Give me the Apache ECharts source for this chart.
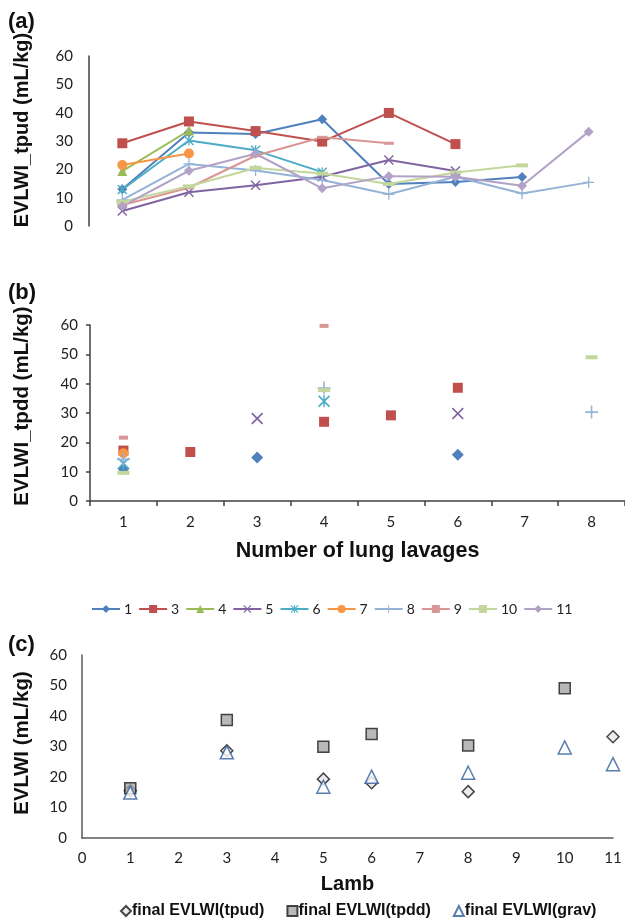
<!DOCTYPE html>
<html>
<head>
<meta charset="utf-8">
<script src="https://cdn.jsdelivr.net/npm/echarts@6/dist/echarts.min.js"></script>
<style>
html,body{margin:0;padding:0;background:#fff;}
#chart{width:625px;height:920px;}
</style>
</head>
<body>
<div id="chart"></div>
<script>
// ---------- DATA ----------
const lavages = ['1','2','3','4','5','6','7','8'];
const lambNames = ['1','3','4','5','6','7','8','9','10','11'];

// Panel (a): EVLWI_tpud per lavage, one array per lamb
const tpudLamb1  = [13.0, 33.0, 32.5, 37.7, 14.8, 15.5, 17.3, null];
const tpudLamb3  = [29.2, 36.9, 33.5, 29.8, 39.9, 28.9, null, null];
const tpudLamb4  = [19.4, 33.7, null, null, null, null, null, null];
const tpudLamb5  = [5.3, 11.9, 14.4, 17.4, 23.3, 19.4, null, null];
const tpudLamb6  = [12.9, 30.2, 26.7, 19.0, null, null, null, null];
const tpudLamb7  = [21.5, 25.6, null, null, null, null, null, null];
const tpudLamb8  = [9.2, 21.9, 19.6, 16.2, 11.2, 17.4, 11.5, 15.4];
const tpudLamb9  = [7.4, 13.5, 24.8, 31.3, 29.2, null, null, null];
const tpudLamb10 = [8.6, 14.0, 20.5, 18.5, 14.8, 18.9, 21.4, null];
const tpudLamb11 = [7.0, 19.5, 25.5, 13.3, 17.6, 17.4, 14.2, 33.3];

// Panel (b): EVLWI_tpdd per lavage, one array per lamb
const tpddLamb1  = [11.0, null, 14.8, null, null, 15.8, null, null];
const tpddLamb3  = [17.2, 16.7, null, 27.0, 29.2, 38.6, null, null];
const tpddLamb4  = [null, null, null, null, null, null, null, null];
const tpddLamb5  = [null, null, 28.1, null, null, 29.8, null, null];
const tpddLamb6  = [12.8, null, null, 34.0, null, null, null, null];
const tpddLamb7  = [16.3, null, null, null, null, null, null, null];
const tpddLamb8  = [14.2, null, null, 38.5, null, null, null, 30.3];
const tpddLamb9  = [21.6, null, null, 59.7, null, null, null, null];
const tpddLamb10 = [9.6, null, null, 37.8, null, null, null, 49.0];
const tpddLamb11 = [null, null, null, null, null, null, null, null];

// Panel (c): final EVLWI per lamb
const lambIds    = [1, 3, 5, 6, 8, 10, 11];
const finalTpud  = [15.5, 28.6, 19.3, 18.1, 15.2, null, 33.2];
const finalTpdd  = [16.3, 38.7, 29.9, 34.1, 30.3, 49.1, null];
const finalGrav  = [14.9, 28.1, 16.8, 20.1, 21.4, 29.7, 24.2];
const valueTicks = [0, 10, 20, 30, 40, 50, 60];

// ---------- STYLE ----------
const tpudSets = [tpudLamb1,tpudLamb3,tpudLamb4,tpudLamb5,tpudLamb6,tpudLamb7,tpudLamb8,tpudLamb9,tpudLamb10,tpudLamb11];
const tpddSets = [tpddLamb1,tpddLamb3,tpddLamb4,tpddLamb5,tpddLamb6,tpddLamb7,tpddLamb8,tpddLamb9,tpddLamb10,tpddLamb11];
const colors = ['#4F81BD','#C0504D','#9BBB59','#8064A2','#4BACC6','#F79646','#95B3D7','#D99694','#C3D69B','#B3A2C7'];
const X_PATH = 'path://M1,0 L5,4 L9,0 L10,1 L6,5 L10,9 L9,10 L5,6 L1,10 L0,9 L4,5 L0,1 Z';
const PLUS_PATH = 'path://M4.4,0 H5.6 V4.4 H10 V5.6 H5.6 V10 H4.4 V5.6 H0 V4.4 H4.4 Z';
const STAR_PATH = 'path://M1,0 L5,4 L9,0 L10,1 L6,5 L10,9 L9,10 L5,6 L1,10 L0,9 L4,5 L0,1 Z M4.4,0 H5.6 V10 H4.4 Z';
const symbols = ['diamond','rect','triangle',X_PATH,STAR_PATH,'circle',PLUS_PATH,'rect','rect','diamond'];
const symSizesA = [10,10,10,10,10,10,11,[10,3],[12,4],10];
const symSizesB = [12,10,10,12,12,10,13,[9,4],[12,4],10];

const tickFont = 'Lato, "Liberation Sans", sans-serif';
const boldFont = '"Liberation Sans", Arial, sans-serif';

const series = [];
lambNames.forEach((nm, i) => {
  series.push({
    name: nm, type: 'line', xAxisIndex: 0, yAxisIndex: 0,
    data: tpudSets[i], symbol: symbols[i], symbolSize: symSizesA[i],
    showAllSymbol: true, connectNulls: false,
    lineStyle: {color: colors[i], width: 2},
    itemStyle: {color: colors[i]},
    emphasis: {disabled: true}, animation: false
  });
});
lambNames.forEach((nm, i) => {
  series.push({
    name: nm, type: 'line', xAxisIndex: 1, yAxisIndex: 1,
    data: tpddSets[i], symbol: symbols[i], symbolSize: symSizesB[i],
    showAllSymbol: true, lineStyle: {width: 0, opacity: 0},
    itemStyle: {color: colors[i]},
    emphasis: {disabled: true}, animation: false
  });
});
series.push({
  name: 'final EVLWI(tpud)', type: 'scatter', xAxisIndex: 2, yAxisIndex: 2,
  data: lambIds.map((l, k) => [l, finalTpud[k]]).filter(d => d[1] !== null),
  symbol: 'diamond', symbolSize: 12,
  itemStyle: {color: '#E8E8E8', borderColor: '#1a1a1a', borderWidth: 1.5}, animation: false
});
series.push({
  name: 'final EVLWI(tpdd)', type: 'scatter', xAxisIndex: 2, yAxisIndex: 2,
  data: lambIds.map((l, k) => [l, finalTpdd[k]]).filter(d => d[1] !== null),
  symbol: 'rect', symbolSize: 11,
  itemStyle: {color: '#A6A6A6', borderColor: '#1a1a1a', borderWidth: 1.5}, animation: false
});
series.push({
  name: 'final EVLWI(grav)', type: 'scatter', xAxisIndex: 2, yAxisIndex: 2,
  data: lambIds.map((l, k) => [l, finalGrav[k]]).filter(d => d[1] !== null),
  symbol: 'triangle', symbolSize: 13,
  itemStyle: {color: '#ffffff', borderColor: '#2E5C9A', borderWidth: 1.5}, animation: false
});

const yAxisBase = (extra) => Object.assign({
  type: 'value', min: valueTicks[0], max: valueTicks[valueTicks.length-1], interval: 10,
  splitLine: {show: false},
  axisLine: {show: true, lineStyle: {color: '#404040', width: 1.5}},
  axisTick: {show: false},
  axisLabel: {fontSize: 15, color: '#222', fontFamily: tickFont, margin: 16}
}, extra);

const option = {
  backgroundColor: '#fff',
  animation: false,
  grid: [
    {left: 89, top: 56, width: 533, height: 170},
    {left: 90, top: 325, width: 541, height: 176},
    {left: 82, top: 655, width: 531, height: 183}
  ],
  xAxis: [
    {type: 'category', gridIndex: 0, data: lavages, boundaryGap: true, show: false},
    {type: 'category', gridIndex: 1, data: lavages, boundaryGap: true,
     axisLine: {lineStyle: {color: '#404040', width: 1.5}},
     axisTick: {show: true, length: 5, lineStyle: {color: '#404040', width: 1.5}},
     axisLabel: {fontSize: 15, color: '#222', fontFamily: tickFont, margin: 14},
     name: 'Number of lung lavages', nameLocation: 'middle', nameGap: 39,
     nameTextStyle: {fontSize: 21.5, fontWeight: 'bold', fontFamily: boldFont, color: '#111'}},
    {type: 'value', gridIndex: 2, min: 0, max: 11, interval: 1,
     splitLine: {show: false},
     axisLine: {lineStyle: {color: '#595959', width: 1.5}},
     axisTick: {show: false},
     axisLabel: {fontSize: 15, color: '#222', fontFamily: tickFont, margin: 13},
     name: 'Lamb', nameLocation: 'middle', nameGap: 36,
     nameTextStyle: {fontSize: 20, fontWeight: 'bold', fontFamily: boldFont, color: '#111'}}
  ],
  yAxis: [
    yAxisBase({gridIndex: 0}),
    yAxisBase({gridIndex: 1, axisTick: {show: true, length: 4, lineStyle: {color: '#404040', width: 1.5}}, axisLabel: {fontSize: 15, color: '#222', fontFamily: tickFont, margin: 12}}),
    yAxisBase({gridIndex: 2, axisLine: {show: true, lineStyle: {color: '#595959', width: 1.5}}, axisLabel: {fontSize: 15, color: '#222', fontFamily: tickFont, margin: 15}})
  ],
  legend: [
    {data: lambNames, top: 597, left: 86, width: 560, itemWidth: 28, itemHeight: 10, itemGap: 6,
     textStyle: {fontSize: 14, color: '#222', fontFamily: tickFont, padding: [0,0,0,-1]}, selectedMode: false},
    {data: [
       {name: 'final EVLWI(tpud)', icon: 'diamond'},
       {name: 'final EVLWI(tpdd)', icon: 'rect'},
       {name: 'final EVLWI(grav)', icon: 'triangle'}],
     top: 898, left: 115, width: 560, itemWidth: 10, itemHeight: 10, itemGap: 22,
     textStyle: {fontSize: 16, fontWeight: 'bold', color: '#111', fontFamily: boldFont, padding: [0,0,0,-4]},
     selectedMode: false}
  ],
  graphic: [
    {type: 'text', x: 8, y: 22, style: {text: '(a)', font: 'bold 22px "Liberation Sans", Arial', fill: '#111', textVerticalAlign: 'middle'}},
    {type: 'text', x: 8, y: 293, style: {text: '(b)', font: 'bold 22px "Liberation Sans", Arial', fill: '#111', textVerticalAlign: 'middle'}},
    {type: 'text', x: 8, y: 645, style: {text: '(c)', font: 'bold 22px "Liberation Sans", Arial', fill: '#111', textVerticalAlign: 'middle'}},
    {type: 'text', x: 22, y: 130, rotation: Math.PI/2, style: {text: 'EVLWI_tpud (mL/kg)', font: 'bold 20px "Liberation Sans", Arial', fill: '#111', textAlign: 'center', textVerticalAlign: 'middle'}},
    {type: 'text', x: 22, y: 406, rotation: Math.PI/2, style: {text: 'EVLWI_tpdd (mL/kg)', font: 'bold 20.5px "Liberation Sans", Arial', fill: '#111', textAlign: 'center', textVerticalAlign: 'middle'}},
    {type: 'text', x: 22, y: 743, rotation: Math.PI/2, style: {text: 'EVLWI (mL/kg)', font: 'bold 20.5px "Liberation Sans", Arial', fill: '#111', textAlign: 'center', textVerticalAlign: 'middle'}}
  ],
  series: series
};

const chart = echarts.init(document.getElementById('chart'), null, {renderer: 'canvas'});
chart.setOption(option);
</script>
</body>
</html>
